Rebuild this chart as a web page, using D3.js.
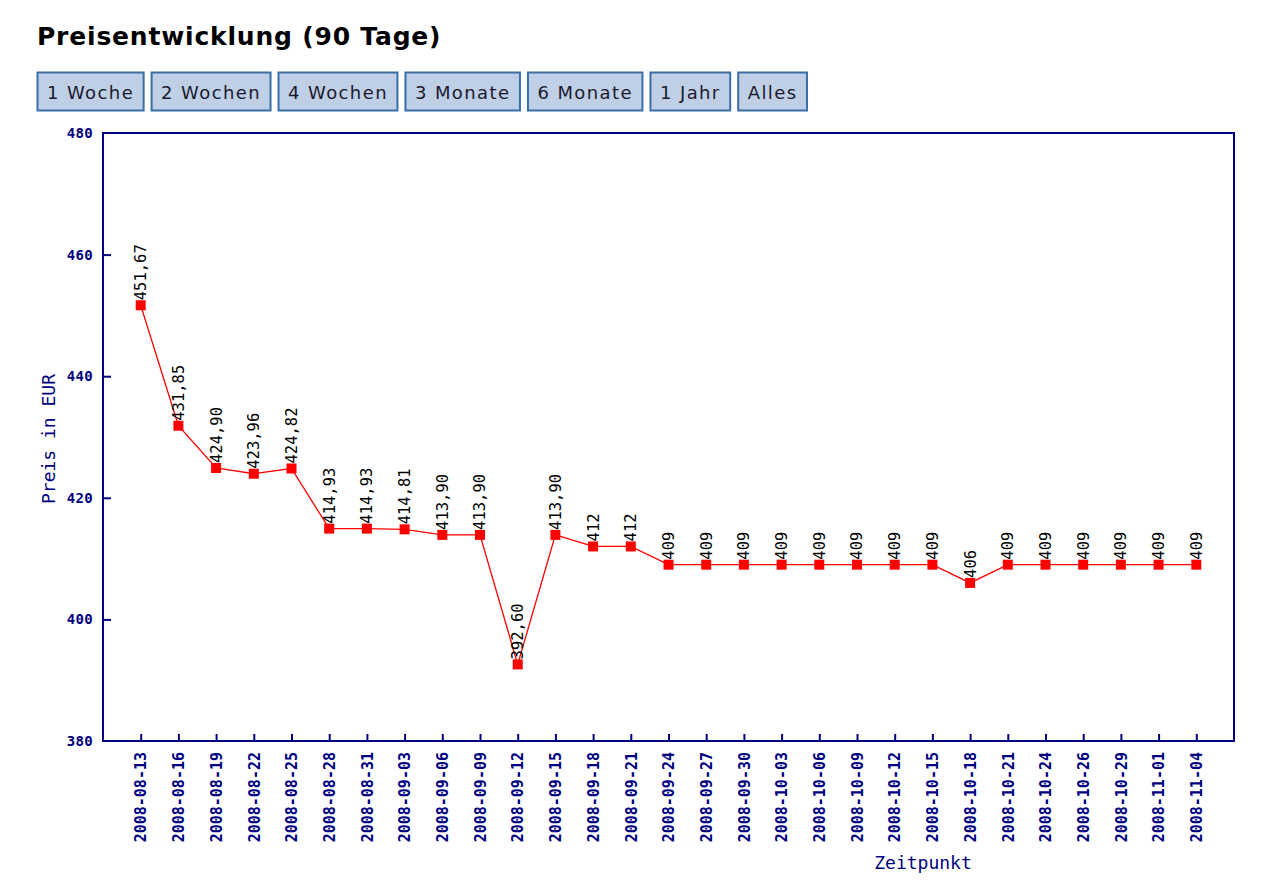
<!DOCTYPE html>
<html>
<head>
<meta charset="utf-8">
<script src="https://cdn.jsdelivr.net/npm/d3@7"></script>
<style>
  body { margin: 0; background: #fff; }
  .mono { font-family: "DejaVu Sans Mono", monospace; }
</style>
</head>
<body>
<script>
// data
const dates = ["2008-08-13","2008-08-16","2008-08-19","2008-08-22","2008-08-25","2008-08-28",
               "2008-08-31","2008-09-03","2008-09-06","2008-09-09","2008-09-12","2008-09-15",
               "2008-09-18","2008-09-21","2008-09-24","2008-09-27","2008-09-30","2008-10-03",
               "2008-10-06","2008-10-09","2008-10-12","2008-10-15","2008-10-18","2008-10-21",
               "2008-10-24","2008-10-26","2008-10-29","2008-11-01","2008-11-04"];
const prices = [451.67, 431.85, 424.90, 423.96, 424.82, 414.93, 414.93, 414.81, 413.90, 413.90,
                392.60, 413.90, 412, 412, 409, 409, 409, 409, 409, 409, 409, 409, 406, 409,
                409, 409, 409, 409, 409];
const yTicks = [380, 400, 420, 440, 460, 480];
const buttons = ["1 Woche", "2 Wochen", "4 Wochen", "3 Monate", "6 Monate", "1 Jahr", "Alles"];

const W = 1280, H = 890;
const navy = "#000080";
const plot = {left: 103, right: 1234, top: 133, bottom: 741};

const svg = d3.select("body").append("svg")
    .attr("width", W)
    .attr("height", H);

svg.append("text")
    .attr("x", 37)
    .attr("y", 45)
    .style("font-family", "DejaVu Sans")
    .style("font-weight", "bold")
    .style("font-size", "25px")
    .style("letter-spacing", "0.8px")
    .style("fill", "#000")
    .text("Preisentwicklung (90 Tage)");

// range buttons
let bx = 37;
buttons.forEach(function(b) {
    const g = svg.append("g").attr("transform", "translate(" + bx + ",72)");
    const t = g.append("text")
        .attr("x", 10)
        .attr("y", 27)
        .style("font-family", "DejaVu Sans")
        .style("font-size", "18px")
        .style("letter-spacing", "1.4px")
        .style("fill", "#1a1a2e")
        .text(b);
    const tw = t.node().getComputedTextLength();
    g.insert("rect", "text")
        .attr("x", 0.5)
        .attr("y", 0.5)
        .attr("width", tw + 19)
        .attr("height", 38)
        .style("fill", "#bfcfe6")
        .style("stroke", "#3a6ea5")
        .style("stroke-width", 2);
    bx += tw + 19 + 8;
});

const x = d3.scalePoint()
    .domain(dates)
    .range([plot.left, plot.right])
    .padding(1);

const y = d3.scaleLinear()
    .domain([380, 480])
    .range([plot.bottom, plot.top]);

// frame
svg.append("rect")
    .attr("x", plot.left)
    .attr("y", plot.top)
    .attr("width", plot.right - plot.left)
    .attr("height", plot.bottom - plot.top)
    .style("fill", "none")
    .style("stroke", navy)
    .style("stroke-width", 2);

const yAxis = svg.append("g")
    .attr("transform", "translate(" + plot.left + ",0)")
    .call(d3.axisLeft(y).tickValues(yTicks).tickSize(-8).tickPadding(10));

const xAxis = svg.append("g")
    .attr("transform", "translate(0," + plot.bottom + ")")
    .call(d3.axisBottom(x).tickSize(-7).tickPadding(0));

[xAxis, yAxis].forEach(function(a) {
    a.select(".domain").remove();
    a.selectAll("line").style("stroke", navy).style("stroke-width", 2);
    a.selectAll("text")
        .attr("class", "mono")
        .style("fill", navy)
        .style("font-weight", "bold");
});
yAxis.selectAll("text").style("font-size", "14px").style("letter-spacing", "0.3px");
xAxis.selectAll("text").style("font-size", "15px");
// keep only inner ticks for the end values
yAxis.selectAll(".tick").filter(d => d === 380 || d === 480).select("line").remove();

xAxis.selectAll("text")
    .attr("transform", "rotate(-90)")
    .attr("x", -11)
    .attr("y", 0)
    .attr("dy", "0.35em")
    .style("text-anchor", "end");

// line + markers
svg.append("path")
    .datum(prices)
    .attr("d", d3.line().x((d, i) => x(dates[i])).y(d => y(d)))
    .style("fill", "none")
    .style("stroke", "#ff0000")
    .style("stroke-width", 1.3);

svg.selectAll("rect.pt")
    .data(prices)
    .enter()
    .append("rect")
    .attr("class", "pt")
    .attr("x", (d, i) => x(dates[i]) - 5)
    .attr("y", d => y(d) - 5)
    .attr("width", 10)
    .attr("height", 10)
    .style("fill", "#ff0000");

const fmt = d => Number.isInteger(d) ? String(d) : d.toFixed(2).replace(".", ",");

svg.selectAll("text.val")
    .data(prices)
    .enter()
    .append("text")
    .attr("class", "val mono")
    .attr("transform", (d, i) => "translate(" + x(dates[i]) + "," + (y(d) - 5) + ") rotate(-90)")
    .attr("dy", "0.35em")
    .style("font-size", "15.5px")
    .style("fill", "#000")
    .text(fmt);

// axis titles
svg.append("text")
    .attr("class", "mono")
    .attr("transform", "translate(55,439) rotate(-90)")
    .style("text-anchor", "middle")
    .style("font-size", "18px")
    .style("fill", navy)
    .text("Preis in EUR");

svg.append("text")
    .attr("class", "mono")
    .attr("x", 923)
    .attr("y", 869)
    .style("text-anchor", "middle")
    .style("font-size", "18px")
    .style("fill", navy)
    .text("Zeitpunkt");
</script>
</body>
</html>
